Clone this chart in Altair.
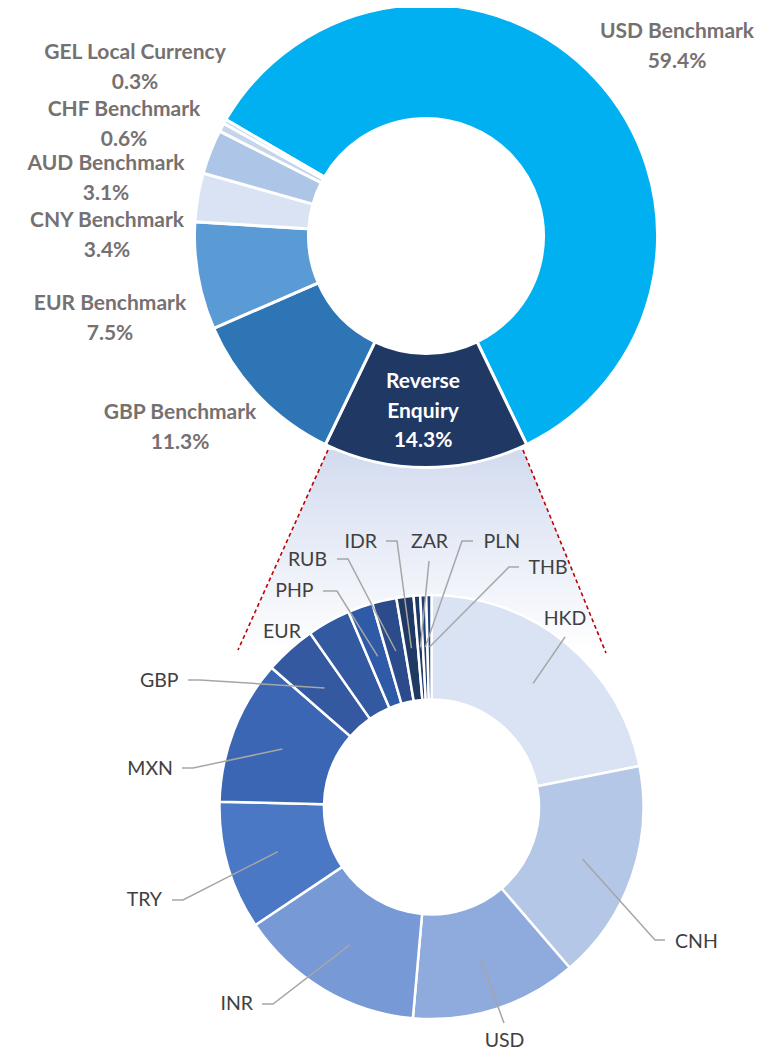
import math
import pandas as pd
import altair as alt

# ---------------- data ----------------
top_names = ["USD Benchmark", "Reverse Enquiry", "GBP Benchmark", "EUR Benchmark",
             "CNY Benchmark", "AUD Benchmark", "CHF Benchmark", "GEL Local Currency"]
top_values = [59.4, 14.3, 11.3, 7.5, 3.4, 3.1, 0.6, 0.3]

bot_names = ["HKD", "CNH", "USD", "INR", "TRY", "MXN", "GBP", "EUR",
             "PHP", "RUB", "IDR", "ZAR", "PLN", "THB"]
bot_values = [21.9, 16.8, 12.7, 14.2, 9.8, 11.0, 3.9, 3.3,
              1.9, 1.85, 1.3, 0.5, 0.45, 0.4]

# ---------------- styles ----------------
top_colors = ["#00B0F0", "#203864", "#2E75B6", "#5B9BD5",
              "#DAE3F3", "#ADC5E7", "#C5D5EC", "#BDD7EE"]
bot_colors = ["#DAE3F3", "#B4C7E7", "#8FAADC", "#7799D6", "#4A78C5", "#3B66B3",
              "#3459A1", "#3359A1", "#2F5AA8", "#2B4B8B", "#1F3864", "#1F3864",
              "#203F73", "#22427A"]

FONT = "Lato"
OFF = 8  # page margin
TOP_CX, TOP_CY, TOP_R, TOP_r = 426, 236, 231.5, 117.5
BOT_CX, BOT_CY, BOT_R, BOT_r = 431.5, 807, 212, 107.5
ANCHOR_R = 160

# top label layout (first line centre), second line below
top_label_pos = {
    "USD Benchmark": (677, 32),
    "GEL Local Currency": (135, 53),
    "CHF Benchmark": (124, 110),
    "AUD Benchmark": (106, 164),
    "CNY Benchmark": (107, 221),
    "EUR Benchmark": (110, 304),
    "GBP Benchmark": (180, 413),
}
RE_POS = (423, 382)
LINE_H = 29.5

# bottom labels: (x, y, align), leader start (+ optional elbow)
bot_label_pos = {
    "HKD": (565, 619, "center"), "CNH": (675, 942, "left"),
    "USD": (504.5, 1041, "center"), "INR": (253, 1004, "right"),
    "TRY": (162, 900, "right"), "MXN": (173, 769, "right"),
    "GBP": (178.5, 681, "right"), "EUR": (282, 632, "center"),
    "PHP": (313.5, 591, "right"), "RUB": (327, 560, "right"),
    "IDR": (377, 542, "right"), "ZAR": (429.5, 542, "center"),
    "PLN": (483.5, 542, "left"), "THB": (528.5, 568, "left"),
}
leader_pts = {
    "HKD": [(565, 637)], "CNH": [(665, 940), (655, 940)],
    "USD": [(504, 1023)], "INR": [(262, 1004), (273, 1004)],
    "TRY": [(172, 900), (183, 900)], "MXN": [(182, 768), (193, 768)],
    "GBP": [(188, 680), (200, 680)], "PHP": [(323, 591), (337, 591)],
    "RUB": [(337, 559), (348, 559)], "IDR": [(386, 541), (397, 541)],
    "ZAR": [(429, 561)], "PLN": [(473, 541), (462, 541)],
    "THB": [(519, 567), (509, 567)],
}

# ---------------- frames ----------------
top_total = sum(top_values)
bot_total = sum(bot_values)
start = math.pi - (top_values[0] + top_values[1] / 2) / top_total * 2 * math.pi

top_df = pd.DataFrame({"name": top_names, "value": top_values, "ord": range(len(top_names))})
bot_df = pd.DataFrame({"name": bot_names, "value": bot_values, "ord": range(len(bot_names))})

# leader lines: anchors from the slice mid-angles
cum = 0.0
anchors = {}
for n, v in zip(bot_names, bot_values):
    mid = (cum + v / 2) / bot_total * 2 * math.pi
    anchors[n] = (BOT_CX + ANCHOR_R * math.sin(mid), BOT_CY - ANCHOR_R * math.cos(mid))
    cum += v
rows = []
for n, pts in leader_pts.items():
    for i, (px, py) in enumerate(pts + [anchors[n]]):
        rows.append({"label": n, "seq": i, "x": px - OFF, "y": py - OFF})
leader_df = pd.DataFrame(rows)

# top labels
trows = []
for n, v in zip(top_names, top_values):
    if n in top_label_pos:
        x, y = top_label_pos[n]
        trows.append({"t": n, "x": x - OFF, "y": y - OFF})
        trows.append({"t": f"{v:.1f}%", "x": x - OFF, "y": y + LINE_H - OFF})
top_text_df = pd.DataFrame(trows)
re_val = top_values[top_names.index("Reverse Enquiry")]
re_df = pd.DataFrame({"t": ["Reverse", "Enquiry", f"{re_val:.1f}%"],
                      "x": [RE_POS[0] - OFF] * 3,
                      "y": [RE_POS[1] - OFF + i * LINE_H for i in range(3)]})

bot_text = {"left": [], "right": [], "center": []}
for n in bot_names:
    x, y, a = bot_label_pos[n]
    bot_text[a].append({"t": n, "x": x - OFF, "y": y - OFF})

# connector (zoom) region and dashed edges
area_df = pd.DataFrame({"y": [450 - OFF, 652 - OFF],
                        "xl": [328 - OFF, 238 - OFF], "xr": [523 - OFF, 606 - OFF]})
dash_df = pd.DataFrame({"x": [328 - OFF, 523 - OFF], "y": [450 - OFF, 450 - OFF],
                        "x2": [238 - OFF, 606 - OFF], "y2": [650 - OFF, 653 - OFF]})

X = lambda f: alt.X(f, scale=None, axis=None)
Y = lambda f: alt.Y(f, scale=None, axis=None)

area = alt.Chart(area_df).mark_area(
    orient="horizontal",
    color=alt.Gradient(gradient="linear",
                       stops=[alt.GradientStop(color="#D2DBEF", offset=0),
                              alt.GradientStop(color="#FFFFFF", offset=1)],
                       x1=0, x2=0, y1=0, y2=1)
).encode(y=Y("y:Q"), x=X("xl:Q"), x2="xr:Q")

dashes = alt.Chart(dash_df).mark_rule(color="#C00000", strokeWidth=1.6, strokeDash=[4, 3]).encode(
    x=X("x:Q"), y=Y("y:Q"), x2="x2:Q", y2="y2:Q")

bot_arc = alt.Chart(bot_df).mark_arc(outerRadius=BOT_R, innerRadius=BOT_r,
                                     stroke="white", strokeWidth=2.5).encode(
    theta=alt.Theta("value:Q", stack=True,
                    scale=alt.Scale(domain=[0, bot_total], range=[0, 2 * math.pi], nice=False)),
    color=alt.Color("name:N", scale=alt.Scale(domain=bot_names, range=bot_colors), legend=None),
    order=alt.Order("ord:Q", sort="ascending"),
    x=alt.value(BOT_CX - OFF), y=alt.value(BOT_CY - OFF))

top_arc = alt.Chart(top_df).mark_arc(outerRadius=TOP_R, innerRadius=TOP_r,
                                     stroke="white", strokeWidth=3).encode(
    theta=alt.Theta("value:Q", stack=True,
                    scale=alt.Scale(domain=[0, top_total], range=[start, start + 2 * math.pi], nice=False)),
    color=alt.Color("name:N", scale=alt.Scale(domain=top_names, range=top_colors), legend=None),
    order=alt.Order("ord:Q", sort="ascending"),
    x=alt.value(TOP_CX - OFF), y=alt.value(TOP_CY - OFF))

leaders = alt.Chart(leader_df).mark_line(color="#A6A6A6", strokeWidth=1.5).encode(
    x=X("x:Q"), y=Y("y:Q"), detail="label:N", order="seq:Q")

top_text = alt.Chart(top_text_df).mark_text(font=FONT, fontSize=21, fontWeight="bold",
                                            color="#767171", baseline="middle").encode(
    x=X("x:Q"), y=Y("y:Q"), text="t:N")
re_text = alt.Chart(re_df).mark_text(font=FONT, fontSize=21, fontWeight="bold",
                                     color="#FFFFFF", baseline="middle").encode(
    x=X("x:Q"), y=Y("y:Q"), text="t:N")

bot_layers = []
for a, rs in bot_text.items():
    bot_layers.append(alt.Chart(pd.DataFrame(rs)).mark_text(
        font=FONT, fontSize=19.5, color="#404040", align=a, baseline="middle").encode(
        x=X("x:Q"), y=Y("y:Q"), text="t:N"))

chart = alt.layer(area, dashes, bot_arc, top_arc, leaders, top_text, re_text, *bot_layers).resolve_scale(
    theta="independent", color="independent"
).properties(
    width=762, height=1044, padding=0, autosize=alt.AutoSizeParams(type="none")
).configure_view(stroke=None)

chart.save("out.html", embed_options={"renderer": "svg", "actions": False})
